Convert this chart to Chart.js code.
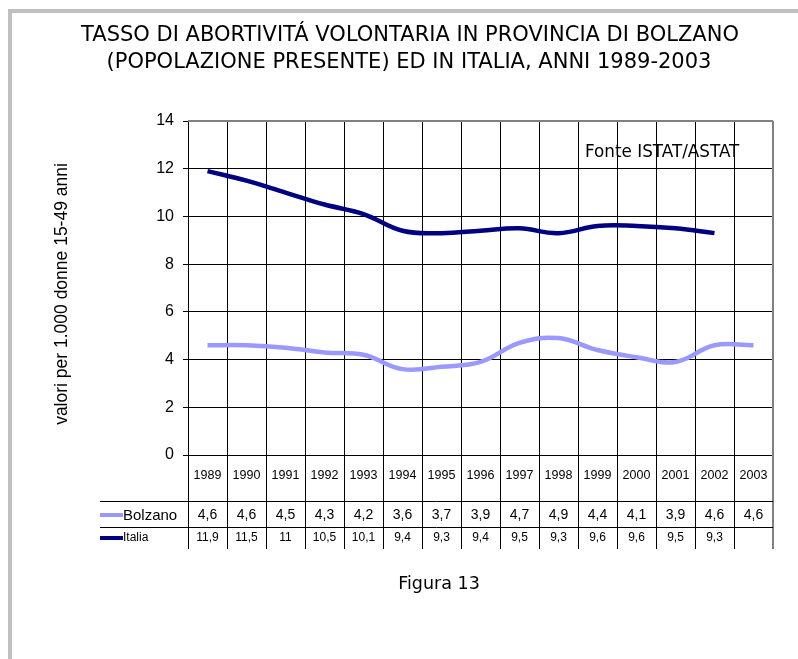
<!DOCTYPE html>
<html>
<head>
<meta charset="utf-8">
<script src="https://cdn.jsdelivr.net/npm/chart.js@4"></script>
<style>
html,body{margin:0;padding:0;background:#fff;}
canvas{display:block;}
</style>
</head>
<body>
<canvas id="grafico" width="798" height="659" style="width:798px;height:659px"></canvas>
<script>
var anni = ["1989","1990","1991","1992","1993","1994","1995","1996","1997","1998","1999","2000","2001","2002","2003"];
var bolzano = [4.6,4.6,4.5,4.3,4.2,3.6,3.7,3.9,4.7,4.9,4.4,4.1,3.9,4.6,4.6];
var italia = [11.9,11.5,11,10.5,10.1,9.4,9.3,9.4,9.5,9.3,9.6,9.6,9.5,9.3,null];
var titolo = ["TASSO DI ABORTIVITÁ VOLONTARIA IN PROVINCIA DI BOLZANO","(POPOLAZIONE PRESENTE) ED IN ITALIA, ANNI 1989-2003"];
var titoloY = "valori per 1.000 donne 15-49 anni";
var fonte = "Fonte ISTAT/ASTAT";
var figura = "Figura 13";

var colBolzano = "#9999ff";
var colItalia = "#000080";

function fmt(v){
    if(v==null) return "";
    return String(v).replace(".",",");
}

// testi, bordo e tabella dati sotto il grafico
const extra = {
    id: "extra",
    afterDraw(chart){
        const ctx = chart.ctx;
        const a = chart.chartArea;
        const xs = chart.scales.x;
        const n = anni.length;
        const w = (a.right - a.left)/n;
        ctx.save();

        // cornice grigia
        ctx.fillStyle = "#c0c0c0";
        ctx.fillRect(8,9,790,4);
        ctx.fillRect(8,9,4,650);

        // titolo
        ctx.fillStyle = "#000";
        ctx.textAlign = "center";
        ctx.textBaseline = "middle";
        ctx.font = "21px 'DejaVu Sans'";
        ctx.fillText(titolo[0], 410, 36);
        ctx.fillText(titolo[1], 409, 63);

        // titolo asse y
        ctx.save();
        ctx.translate(62, 294);
        ctx.rotate(-Math.PI/2);
        ctx.font = "17.5px 'Liberation Sans'";
        ctx.fillText(titoloY, 0, 0);
        ctx.restore();

        // fonte
        ctx.textAlign = "left";
        ctx.font = "16.8px 'DejaVu Sans'";
        ctx.fillText(fonte, 585, 153);

        // figura
        ctx.textAlign = "center";
        ctx.font = "17.5px 'DejaVu Sans'";
        ctx.fillText(figura, 439, 584);

        // bordo grigio alto e destro
        ctx.strokeStyle = "#808080";
        ctx.lineWidth = 2;
        ctx.beginPath();
        ctx.moveTo(a.left, a.top);
        ctx.lineTo(a.right, a.top);
        ctx.moveTo(a.right, a.top);
        ctx.lineTo(a.right, 549);
        ctx.stroke();

        // tabella
        const r1 = 501, r2 = 527, r3 = 549;
        ctx.strokeStyle = "#000";
        ctx.lineWidth = 1;
        ctx.beginPath();
        for(let i=0;i<n;i++){
            const x = Math.round(a.left + i*w) + 0.5;
            ctx.moveTo(x, a.bottom);
            ctx.lineTo(x, r3);
        }
        ctx.moveTo(100, r1+0.5); ctx.lineTo(a.right, r1+0.5);
        ctx.moveTo(100, r2+0.5); ctx.lineTo(a.right, r2+0.5);
        ctx.stroke();

        ctx.font = "12.5px 'Liberation Sans'";
        anni.forEach((y,i)=>{
            ctx.fillText(y, xs.getPixelForValue(i), 476);
        });
        ctx.font = "14px 'Liberation Sans'";
        bolzano.forEach((v,i)=>{
            ctx.fillText(fmt(v), xs.getPixelForValue(i), 515);
        });
        ctx.font = "12px 'Liberation Sans'";
        italia.forEach((v,i)=>{
            ctx.fillText(fmt(v), xs.getPixelForValue(i), 538);
        });

        // legenda nella tabella
        ctx.lineWidth = 4;
        ctx.strokeStyle = colBolzano;
        ctx.beginPath(); ctx.moveTo(100,515); ctx.lineTo(123,515); ctx.stroke();
        ctx.strokeStyle = colItalia;
        ctx.beginPath(); ctx.moveTo(100,538); ctx.lineTo(123,538); ctx.stroke();
        ctx.textAlign = "left";
        ctx.fillStyle = "#000";
        ctx.font = "15px 'Liberation Sans'";
        ctx.fillText("Bolzano", 123, 516);
        ctx.font = "12px 'Liberation Sans'";
        ctx.fillText("Italia", 123, 538);
        ctx.restore();
    }
};

const config = {
    type: "line",
    data: {
        labels: anni,
        datasets: [
        {
            label: "Bolzano",
            data: bolzano,
            borderColor: colBolzano,
            backgroundColor: colBolzano,
            borderWidth: 4.5,
            pointRadius: 0,
            tension: 0.4
        },
        {
            label: "Italia",
            data: italia,
            borderColor: colItalia,
            backgroundColor: colItalia,
            borderWidth: 4.5,
            pointRadius: 0,
            tension: 0.4
        }]
    },
    options: {
        responsive: false,
        animation: false,
        devicePixelRatio: 1,
        layout: { padding: { top: 121, right: 25, left: 0, bottom: 0 } },
        plugins: {
            legend: { display: false },
            title: { display: false },
            tooltip: { enabled: false }
        },
        scales: {
            x: {
                offset: true,
                grid: { offset: true, color: "#000", drawTicks: false },
                border: { color: "#000" },
                ticks: { display: false },
                afterFit: s => { s.height = 204; }
            },
            y: {
                min: 0,
                max: 14,
                ticks: {
                    stepSize: 2,
                    color: "#000",
                    padding: 9,
                    font: { family: "'Liberation Sans'", size: 16 }
                },
                grid: { color: "#000", tickLength: 5 },
                border: { color: "#000" },
                afterFit: s => { s.width = 188; }
            }
        }
    },
    plugins: [extra]
};

new Chart(document.getElementById("grafico").getContext("2d"), config);
</script>
</body>
</html>
